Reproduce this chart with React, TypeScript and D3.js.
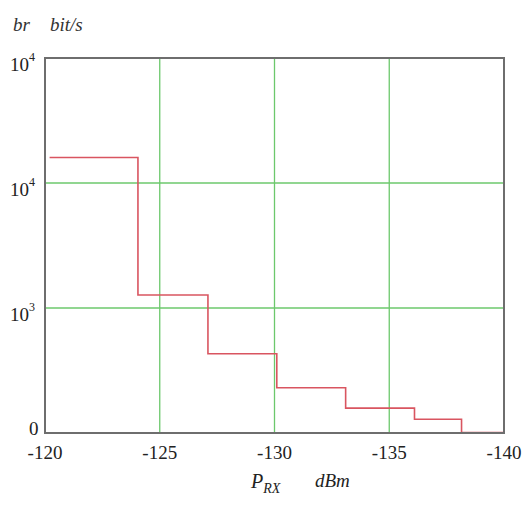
import React from 'react';
import * as d3 from 'd3';

// received power (dBm) where each step starts, last entry closes the final step
const powerSteps = [-120.2, -124.05, -127.1, -130.1, -133.1, -136.1, -138.15, -140];
// bit rate (bit/s) held on each step
const bitRates = [16000, 1270, 430, 230, 158, 129, 101];

const xTicks = [-120, -125, -130, -135, -140];
const yTicks = [100, 1000, 10000, 100000];
const yTickBase = ['0', '10', '10', '10'];
const yTickExp = ['', '3', '4', '4'];

const W = 525;
const H = 505;
const left = 45;
const right = 504;
const top = 58;
const bottom = 433;

const App = () => {
    const x = d3.scaleLinear().domain([-120, -140]).range([left, right]);
    const y = d3.scaleLog().domain([100, 100000]).range([bottom, top]);

    const points: [number, number][] = bitRates.map((r, i) => [powerSteps[i], r]);
    points.push([powerSteps[powerSteps.length - 1], bitRates[bitRates.length - 1]]);

    const line = d3.line<[number, number]>()
        .x(d => x(d[0]))
        .y(d => y(d[1]))
        .curve(d3.curveStepAfter);

    const txt: React.CSSProperties = {
        fontFamily: "'Times New Roman', Times, 'Liberation Serif', 'Noto Serif', 'DejaVu Serif', serif"
    };
    const ital: React.CSSProperties = { ...txt, fontStyle: 'italic' };

    return (
        <svg width={W} height={H} style={{ position: 'absolute', left: 0, top: 0, background: '#fff' }}>
            {/* grid */}
            {xTicks.slice(1, -1).map(t => (
                <line key={'gx' + t} x1={x(t)} x2={x(t)} y1={top} y2={bottom}
                    stroke="#6cc86c" strokeWidth={1.3} />
            ))}
            {yTicks.slice(1, -1).map(t => (
                <line key={'gy' + t} x1={left} x2={right} y1={y(t)} y2={y(t)}
                    stroke="#6cc86c" strokeWidth={1.3} />
            ))}

            {/* step line */}
            <path d={line(points) || ''} fill="none" stroke="#d95560" strokeWidth={1.6} />

            {/* frame */}
            <rect x={left} y={top} width={right - left} height={bottom - top}
                fill="none" stroke="#6e6e6e" strokeWidth={2} />

            {/* x tick labels */}
            {xTicks.map(t => (
                <text key={'xt' + t} x={x(t)} y={459} textAnchor="middle" fontSize={19} fill="#222" style={txt}>
                    {t}
                </text>
            ))}

            {/* y tick labels */}
            {yTicks.map((t, i) => (
                <text key={'yt' + t} x={i === 0 ? 29 : 10} y={y(t) + (i === 0 ? 2 : 13)}
                    fontSize={19} fill="#222" textAnchor="start" style={txt}>
                    {yTickBase[i]}
                    {yTickExp[i] && <tspan fontSize={12} dy={-10}>{yTickExp[i]}</tspan>}
                </text>
            ))}

            {/* axis titles */}
            <text x={13} y={31} fontSize={19} fill="#333" style={ital}>br</text>
            <text x={50} y={31} fontSize={19} fill="#333" style={ital}>bit/s</text>

            <text x={251} y={488} fontSize={20} fill="#222" style={ital}>
                P<tspan fontSize={14} dy={5}>RX</tspan>
            </text>
            <text x={315} y={487} fontSize={19} fill="#222" style={ital}>dBm</text>
        </svg>
    );
};

export default App;
